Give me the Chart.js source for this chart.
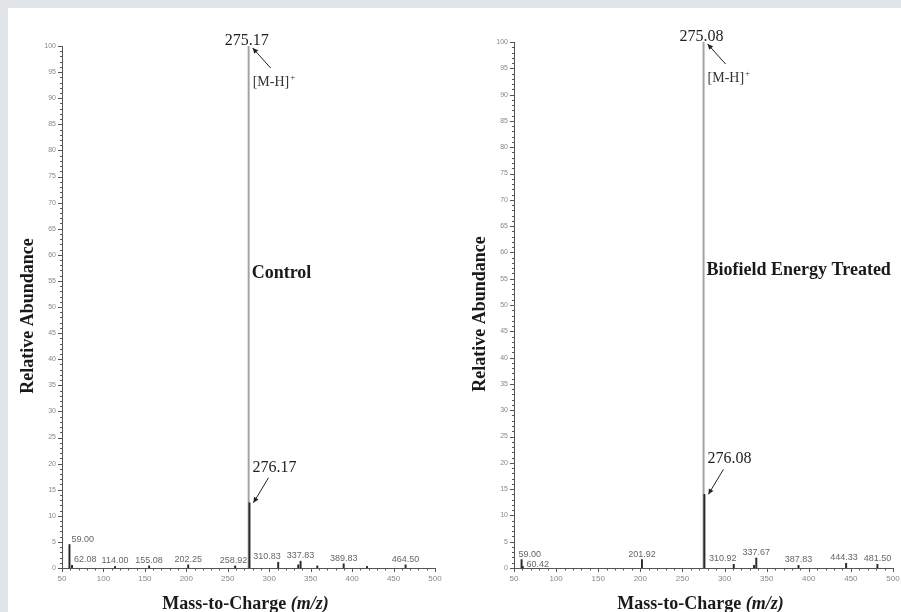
<!DOCTYPE html>
<html>
<head>
<meta charset="utf-8">
<script src="https://cdn.jsdelivr.net/npm/chart.js@4.4.1/dist/chart.umd.min.js"></script>
<style>
  html, body { margin: 0; padding: 0; background: #e3e6e9; }
  #wrap { position: relative; width: 901px; height: 612px; overflow: hidden; }
  #panel { position: absolute; left: 8px; top: 8px; right: 0; bottom: 0; background: #ffffff; }
  canvas { position: absolute; left: 0; top: 0; }
</style>
</head>
<body>
<div id="wrap">
  <div id="panel"></div>
  <canvas id="c1" width="901" height="612"></canvas>
  <canvas id="c2" width="901" height="612"></canvas>
</div>
<script>
// ---------- data ----------
const xTickLabels = [50, 100, 150, 200, 250, 300, 350, 400, 450, 500];
const yTickLabels = [0, 5, 10, 15, 20, 25, 30, 35, 40, 45, 50, 55, 60, 65, 70, 75, 80, 85, 90, 95, 100];

const controlMz    = [59.00, 62.08, 114.00, 155.08, 202.25, 258.92, 275.17, 276.17, 310.83, 335.0, 337.83, 358.0, 389.83, 418.0, 464.50];
const controlAbund = [4.5,   0.5,   0.3,    0.4,    0.6,    0.4,    100,    12.5,   1.1,    0.6,   1.3,    0.4,   0.8,    0.3,   0.6];
const controlLabel = ['59.00','62.08','114.00','155.08','202.25','258.92','','','310.83','','337.83','','389.83','','464.50'];

const treatedMz    = [59.00, 60.42, 201.92, 275.08, 276.08, 310.92, 335.0, 337.67, 387.83, 444.33, 481.50];
const treatedAbund = [1.6,   0.3,   1.6,    100,    14,     0.7,    0.5,   1.9,    0.5,    0.9,    0.7];
const treatedLabel = ['59.00','60.42','201.92','','','310.92','','337.67','387.83','444.33','481.50'];

const controlName = 'Control';
const treatedName = 'Biofield Energy Treated';
const controlMain = 275.17, controlIso = 276.17;
const treatedMain = 275.08, treatedIso = 276.08;

const SERIF = '"Liberation Serif", "Times New Roman", serif';
const SANS = '"Liberation Sans", Arial, sans-serif';

// ---------- plugin ----------
const msPlugin = {
  id: 'msAnnot',
  afterDraw(chart, args, opts) {
    const ctx = chart.ctx;
    const xs = chart.scales.x, ys = chart.scales.y;
    const ca = chart.chartArea;
    const axX = ca.left, axY = ys.getPixelForValue(0);
    ctx.save();
    // tick marks (major + minor)
    ctx.strokeStyle = '#555';
    ctx.lineWidth = 1;
    ctx.beginPath();
    for (let v = 0; v <= 100; v++) {
      const y = Math.round(ys.getPixelForValue(v)) + 0.5;
      const len = (v % 5 === 0) ? 4 : 2;
      ctx.moveTo(axX - len, y); ctx.lineTo(axX, y);
    }
    for (let v = 50; v <= 500; v += 10) {
      const x = Math.round(xs.getPixelForValue(v)) + 0.5;
      const len = (v % 50 === 0) ? 4 : 2.5;
      ctx.moveTo(x, axY); ctx.lineTo(x, axY + len);
    }
    ctx.stroke();

    // peak labels (avoid overlaps)
    const mz = opts.mz, ab = opts.ab, lb = opts.labels;
    ctx.font = '9px ' + SANS;
    ctx.fillStyle = '#666';
    ctx.textBaseline = 'alphabetic';
    ctx.textAlign = 'left';
    const items = [];
    for (let i = 0; i < mz.length; i++) {
      if (!lb[i]) continue;
      const px = xs.getPixelForValue(mz[i]);
      const py = ys.getPixelForValue(ab[i]);
      const w = ctx.measureText(lb[i]).width;
      let left = px - w / 2;
      let clamped = false;
      if (left < axX + 3) { left = px + 2; clamped = true; }
      items.push({ text: lb[i], left, w, y: py - 3, clamped });
    }
    for (let k = 1; k < items.length; k++) {
      const a = items[k - 1], b = items[k];
      if (a.clamped && b.clamped && Math.abs(b.y - a.y) < 10) {
        b.y = a.y + 10;
        b.left = Math.max(b.left, a.left + 3);
        a.left -= 5;
      }
    }
    for (let k = items.length - 2; k >= 0; k--) {
      const a = items[k], b = items[k + 1];
      if (a.clamped || b.clamped) continue;
      if (a.left + a.w > b.left - 6) a.left = b.left - 6 - a.w;
    }
    items.forEach(it => ctx.fillText(it.text, it.left, it.y));

    function arrow(x1, y1, x2, y2) {
      ctx.strokeStyle = '#222';
      ctx.fillStyle = '#222';
      ctx.lineWidth = 1;
      ctx.beginPath(); ctx.moveTo(x1, y1); ctx.lineTo(x2, y2); ctx.stroke();
      const a = Math.atan2(y2 - y1, x2 - x1), h = 6, s = 0.45;
      ctx.beginPath();
      ctx.moveTo(x2, y2);
      ctx.lineTo(x2 - h * Math.cos(a - s), y2 - h * Math.sin(a - s));
      ctx.lineTo(x2 - h * Math.cos(a + s), y2 - h * Math.sin(a + s));
      ctx.closePath(); ctx.fill();
    }

    // main peak annotation
    const mpx = xs.getPixelForValue(opts.main);
    const my = ys.getPixelForValue(100);
    ctx.font = '16px ' + SERIF;
    ctx.fillStyle = '#222';
    ctx.textAlign = 'center';
    ctx.fillText(opts.main.toFixed(2), mpx - 2, my - 1);
    arrow(mpx + 22, my + 22, mpx + 4, my + 2);
    ctx.font = '14px ' + SERIF;
    ctx.textAlign = 'left';
    ctx.textBaseline = 'middle';
    ctx.fillStyle = '#333';
    const mh = '[M-H]';
    ctx.fillText(mh, mpx + 4, my + 36);
    const mhw = ctx.measureText(mh).width;
    ctx.font = '9px ' + SERIF;
    ctx.fillText('+', mpx + 5 + mhw, my + 32);

    // isotope annotation
    const ipx = xs.getPixelForValue(opts.iso);
    const tipY = ys.getPixelForValue(opts.isoVal);
    ctx.font = '16px ' + SERIF;
    ctx.textBaseline = 'alphabetic';
    ctx.fillStyle = '#222';
    ctx.fillText(opts.iso.toFixed(2), ipx + 3, tipY - 31);
    arrow(ipx + 19, tipY - 25, ipx + 4, tipY);

    // sample name
    ctx.font = 'bold 18px ' + SERIF;
    ctx.textBaseline = 'middle';
    ctx.fillStyle = '#1a1a1a';
    ctx.fillText(opts.name, mpx + 3, ys.getPixelForValue(56.5));

    // y axis title
    ctx.save();
    ctx.translate(ca.left - 34, (ca.top + ca.bottom) / 2 + 9);
    ctx.rotate(-Math.PI / 2);
    ctx.textAlign = 'center';
    ctx.font = 'bold 18px ' + SERIF;
    ctx.fillText('Relative Abundance', 0, 0);
    ctx.restore();

    // x axis title
    const t1 = 'Mass-to-Charge ', t2 = '(m/z)';
    const f1 = 'bold 18px ' + SERIF;
    const f2 = 'bold italic 18px ' + SERIF;
    ctx.font = f1; const w1 = ctx.measureText(t1).width;
    ctx.font = f2; const w2 = ctx.measureText(t2).width;
    const cx = (ca.left + ca.right) / 2 - 3;
    const bx = cx - (w1 + w2) / 2;
    ctx.textAlign = 'left';
    ctx.textBaseline = 'alphabetic';
    ctx.font = f1; ctx.fillText(t1, bx, 609);
    ctx.font = f2; ctx.fillText(t2, bx + w1, 609);
    ctx.restore();
  }
};

const Y_W = 30, X_H = 20;

function makeChart(id, mz, ab, labels, main, iso, name, area) {
  const isoVal = ab[mz.indexOf(iso)];
  const colors = mz.map(m => m === main ? '#a2a2a2' : '#2a2a2a');
  const widths = mz.map(m => m === main ? 1.8 : 1.3);
  return new Chart(document.getElementById(id), {
    type: 'bar',
    data: {
      datasets: [{
        data: mz.map((m, i) => ({ x: m, y: ab[i] })),
        backgroundColor: colors,
        barThickness: widths,
        borderWidth: 0,
        grouped: false
      }]
    },
    options: {
      responsive: false,
      animation: false,
      events: [],
      layout: { padding: { left: area.left - Y_W, right: 901 - area.right, top: area.top, bottom: 612 - area.bottom - X_H } },
      plugins: {
        legend: { display: false },
        tooltip: { enabled: false },
        msAnnot: { mz, ab, labels, main, iso, isoVal, name }
      },
      scales: {
        x: {
          type: 'linear',
          min: 50, max: 500,
          offset: false,
          afterFit: s => { s.height = X_H; },
          afterBuildTicks: s => { s.ticks = xTickLabels.map(v => ({ value: v })); },
          grid: { display: false, drawTicks: true, tickLength: 6, offset: false },
          border: { display: true, color: '#555', width: 1 },
          ticks: {
            padding: 0,
            color: '#888',
            font: { family: SANS, size: 8 },
            maxRotation: 0,
            autoSkip: false
          }
        },
        y: {
          min: 0, max: 100,
          afterFit: s => { s.width = Y_W; },
          afterBuildTicks: s => { s.ticks = yTickLabels.map(v => ({ value: v })); },
          grid: { display: false, drawTicks: false },
          border: { display: true, color: '#555', width: 1 },
          ticks: {
            padding: 6,
            color: '#888',
            font: { family: SANS, size: 7 },
            autoSkip: false
          }
        }
      }
    },
    plugins: [msPlugin]
  });
}

makeChart('c1', controlMz, controlAbund, controlLabel, controlMain, controlIso, controlName,
  { left: 62, right: 435, top: 46, bottom: 568 });
makeChart('c2', treatedMz, treatedAbund, treatedLabel, treatedMain, treatedIso, treatedName,
  { left: 514, right: 893, top: 42, bottom: 568 });
</script>
</body>
</html>
